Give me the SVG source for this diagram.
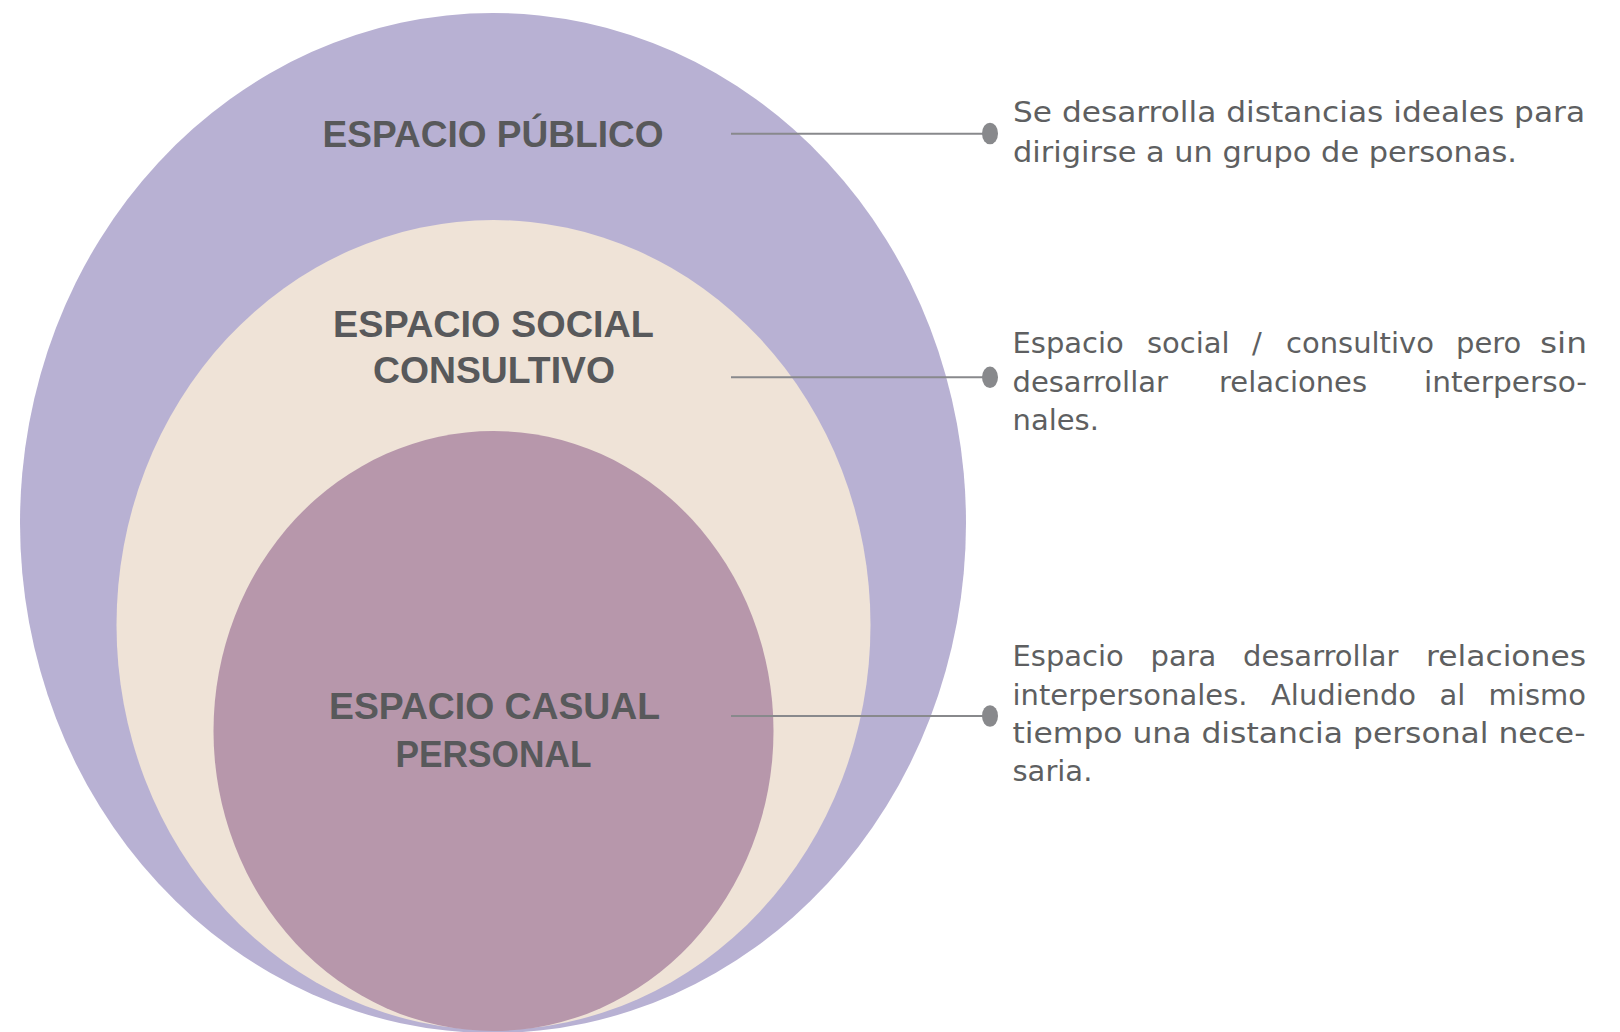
<svg xmlns="http://www.w3.org/2000/svg" width="1620" height="1032" viewBox="0 0 1620 1032">
<defs>
<style>
.lbl{font-family:"Liberation Sans",Arial,sans-serif;font-weight:bold;font-size:37px;fill:#58595B;text-anchor:middle}
.desc{font-family:"DejaVu Sans",sans-serif;font-size:29px;fill:#5E5F61}
.end{text-anchor:end}
.conn{stroke:#88898C;stroke-width:2;fill:none}
.dot{fill:#88898C}
</style>
</defs>
<rect width="1620" height="1032" fill="#FFFFFF"/>
<g id="espacio-publico">
<ellipse cx="493" cy="523" rx="473" ry="510" fill="#B8B1D3"/>
<text class="lbl" x="493" y="146.7" textLength="341" lengthAdjust="spacingAndGlyphs">ESPACIO PÚBLICO</text>
</g>
<g id="espacio-social">
<ellipse cx="493.5" cy="625" rx="377" ry="405" fill="#EFE3D7"/>
<text class="lbl" x="493.5" y="336.7" textLength="321" lengthAdjust="spacingAndGlyphs">ESPACIO SOCIAL</text>
<text class="lbl" x="494" y="383.3" textLength="242" lengthAdjust="spacingAndGlyphs">CONSULTIVO</text>
</g>
<g id="espacio-casual">
<ellipse cx="493.5" cy="731" rx="280" ry="300" fill="#B797AB"/>
<text class="lbl" x="494.5" y="719.3" textLength="331" lengthAdjust="spacingAndGlyphs">ESPACIO CASUAL</text>
<text class="lbl" x="493.5" y="766.7" textLength="196" lengthAdjust="spacingAndGlyphs">PERSONAL</text>
</g>
<g id="connectors">
<line class="conn" x1="731" y1="133.7" x2="988" y2="133.7"/>
<ellipse class="dot" cx="990" cy="133.5" rx="8" ry="10.8"/>
<line class="conn" x1="731" y1="377.3" x2="988" y2="377.3"/>
<ellipse class="dot" cx="990" cy="377.3" rx="8" ry="10.8"/>
<line class="conn" x1="731" y1="716" x2="988" y2="716"/>
<ellipse class="dot" cx="990" cy="716" rx="8" ry="10.8"/>
</g>
<g id="desc-publico">
<text class="desc" x="1013" y="121.7" textLength="572" lengthAdjust="spacingAndGlyphs">Se desarrolla distancias ideales para</text>
<text class="desc" x="1013" y="161.7" textLength="504" lengthAdjust="spacingAndGlyphs">dirigirse a un grupo de personas.</text>
</g>
<g id="desc-social">
<text class="desc" y="353.4"><tspan x="1012.5">Espacio</tspan><tspan x="1147">social</tspan><tspan x="1252">/</tspan><tspan x="1286">consultivo</tspan><tspan x="1456">pero</tspan></text>
<text class="desc end" x="1587" y="353.4" textLength="47" lengthAdjust="spacingAndGlyphs">sin</text>
<text class="desc" y="391.6"><tspan x="1012.5">desarrollar</tspan><tspan x="1219">relaciones</tspan></text>
<text class="desc end" x="1587" y="391.6" textLength="163" lengthAdjust="spacingAndGlyphs">interperso-</text>
<text class="desc" x="1012.5" y="429.8">nales.</text>
</g>
<g id="desc-casual">
<text class="desc" y="666.4"><tspan x="1012.5">Espacio</tspan><tspan x="1150.5">para</tspan><tspan x="1243">desarrollar</tspan></text>
<text class="desc end" x="1586" y="666.4" textLength="160" lengthAdjust="spacingAndGlyphs">relaciones</text>
<text class="desc" y="704.6"><tspan x="1012.5">interpersonales.</tspan><tspan x="1271">Aludiendo</tspan><tspan x="1439.4">al</tspan></text>
<text class="desc end" x="1586" y="704.6">mismo</text>
<text class="desc" x="1012.5" y="742.9" textLength="573" lengthAdjust="spacingAndGlyphs">tiempo una distancia personal nece-</text>
<text class="desc" x="1012.5" y="781.1">saria.</text>
</g>
</svg>
